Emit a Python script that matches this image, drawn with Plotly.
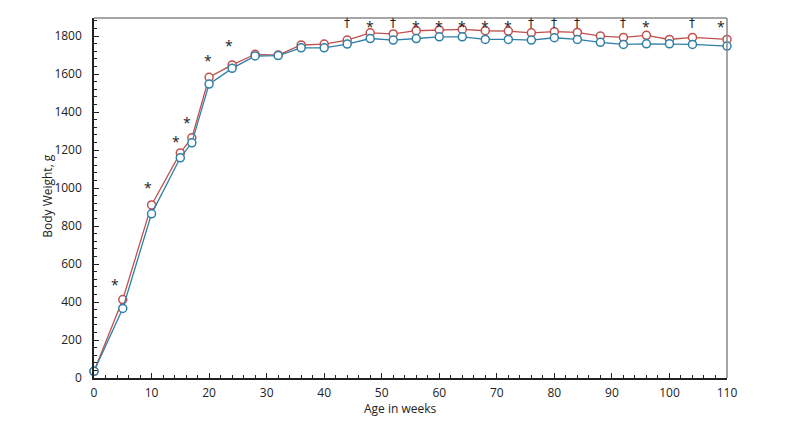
import plotly.graph_objects as go

# weeks of age at each weighing
weeks = [0, 5, 10, 15, 17, 20, 24, 28, 32, 36, 40, 44, 48, 52, 56, 60, 64, 68,
         72, 76, 80, 84, 88, 92, 96, 100, 104, 110]

# body weight in g, upper (red) and lower (blue) group
weight_red = [35, 413, 911, 1185, 1264, 1583, 1648, 1704, 1700, 1753, 1758, 1779,
              1817, 1811, 1828, 1832, 1835, 1828, 1826, 1817, 1823, 1819, 1800,
              1793, 1804, 1782, 1793, 1782]
weight_blue = [35, 366, 864, 1159, 1238, 1547, 1630, 1695, 1697, 1738, 1738, 1758,
               1787, 1779, 1787, 1796, 1796, 1782, 1782, 1779, 1791, 1782, 1767,
               1756, 1759, 1759, 1756, 1747]

# significance marks (position of glyph, symbol)
mark_weeks = [3.6, 9.3, 14.2, 16.2, 19.8, 23.5, 44, 48, 52, 56, 60, 64, 68, 72,
              76, 80, 84, 92, 96, 104, 109]
mark_values = [507, 1021, 1262, 1363, 1688, 1765] + [1867] * 15
mark_symbols = ["*", "*", "*", "*", "*", "*", "†", "*", "†", "*", "*", "*", "*", "*",
                "†", "†", "†", "†", "*", "†", "*"]

RED = "#c0504d"
BLUE = "#2f7fa6"
FONT = "Open Sans"

fig = go.Figure()
for vals, col in [(weight_red, RED), (weight_blue, BLUE)]:
    fig.add_trace(go.Scatter(
        x=weeks, y=vals, mode="lines+markers",
        line=dict(color=col, width=1.3),
        marker=dict(symbol="circle", size=8, color="white",
                    line=dict(color=col, width=1.5)),
        showlegend=False, cliponaxis=False,
    ))

for wk, v, s in zip(mark_weeks, mark_values, mark_symbols):
    fig.add_annotation(x=wk, y=v, text=s, showarrow=False,
                       font=dict(family="DejaVu Sans" if s == "†" else FONT,
                                 size=14 if s == "*" else 12, color="#222"),
                       yshift=-3 if s == "*" else 0)

# axis titles placed as in the original
fig.add_annotation(xref="paper", yref="paper", x=-0.0733, y=0.505, text="Body Weight, g",
                   textangle=-90, showarrow=False, xanchor="center", yanchor="middle",
                   font=dict(family=FONT, size=12, color="#222"))
fig.add_annotation(xref="paper", yref="paper", x=0.4835, y=-0.086, text="Age in weeks",
                   showarrow=False, xanchor="center", yanchor="middle",
                   font=dict(family=FONT, size=12, color="#222"))

# grey top and right border
fig.add_shape(type="line", xref="paper", yref="paper", x0=0, x1=1, y0=1, y1=1,
              line=dict(color="#888", width=1.5))
fig.add_shape(type="line", xref="paper", yref="paper", x0=1, x1=1, y0=0, y1=1,
              line=dict(color="#888", width=1.5))

fig.update_xaxes(
    range=[0, 110], dtick=10, showgrid=False, zeroline=False,
    showline=True, linecolor="#222", linewidth=1.5,
    ticks="inside", ticklen=5, tickcolor="#222",
    minor=dict(dtick=2, ticks="inside", ticklen=3, tickcolor="#222"),
    tickfont=dict(family=FONT, size=12, color="#222"),
    ticklabelstandoff=3,
)
fig.update_yaxes(
    range=[0, 1895], dtick=200, showgrid=False, zeroline=False,
    showline=True, linecolor="#222", linewidth=1.5,
    ticks="inside", ticklen=5, tickcolor="#222",
    minor=dict(dtick=40, ticks="inside", ticklen=3, tickcolor="#222"),
    tickfont=dict(family=FONT, size=12, color="#222"),
    ticklabelstandoff=8,
)
# page body adds an 8px offset, so margins are shifted to keep the plot area in place
fig.update_layout(
    width=800, height=422,
    margin=dict(l=86, r=81, t=10, b=52),
    plot_bgcolor="white", paper_bgcolor="white",
)

fig.write_html("out.html")
